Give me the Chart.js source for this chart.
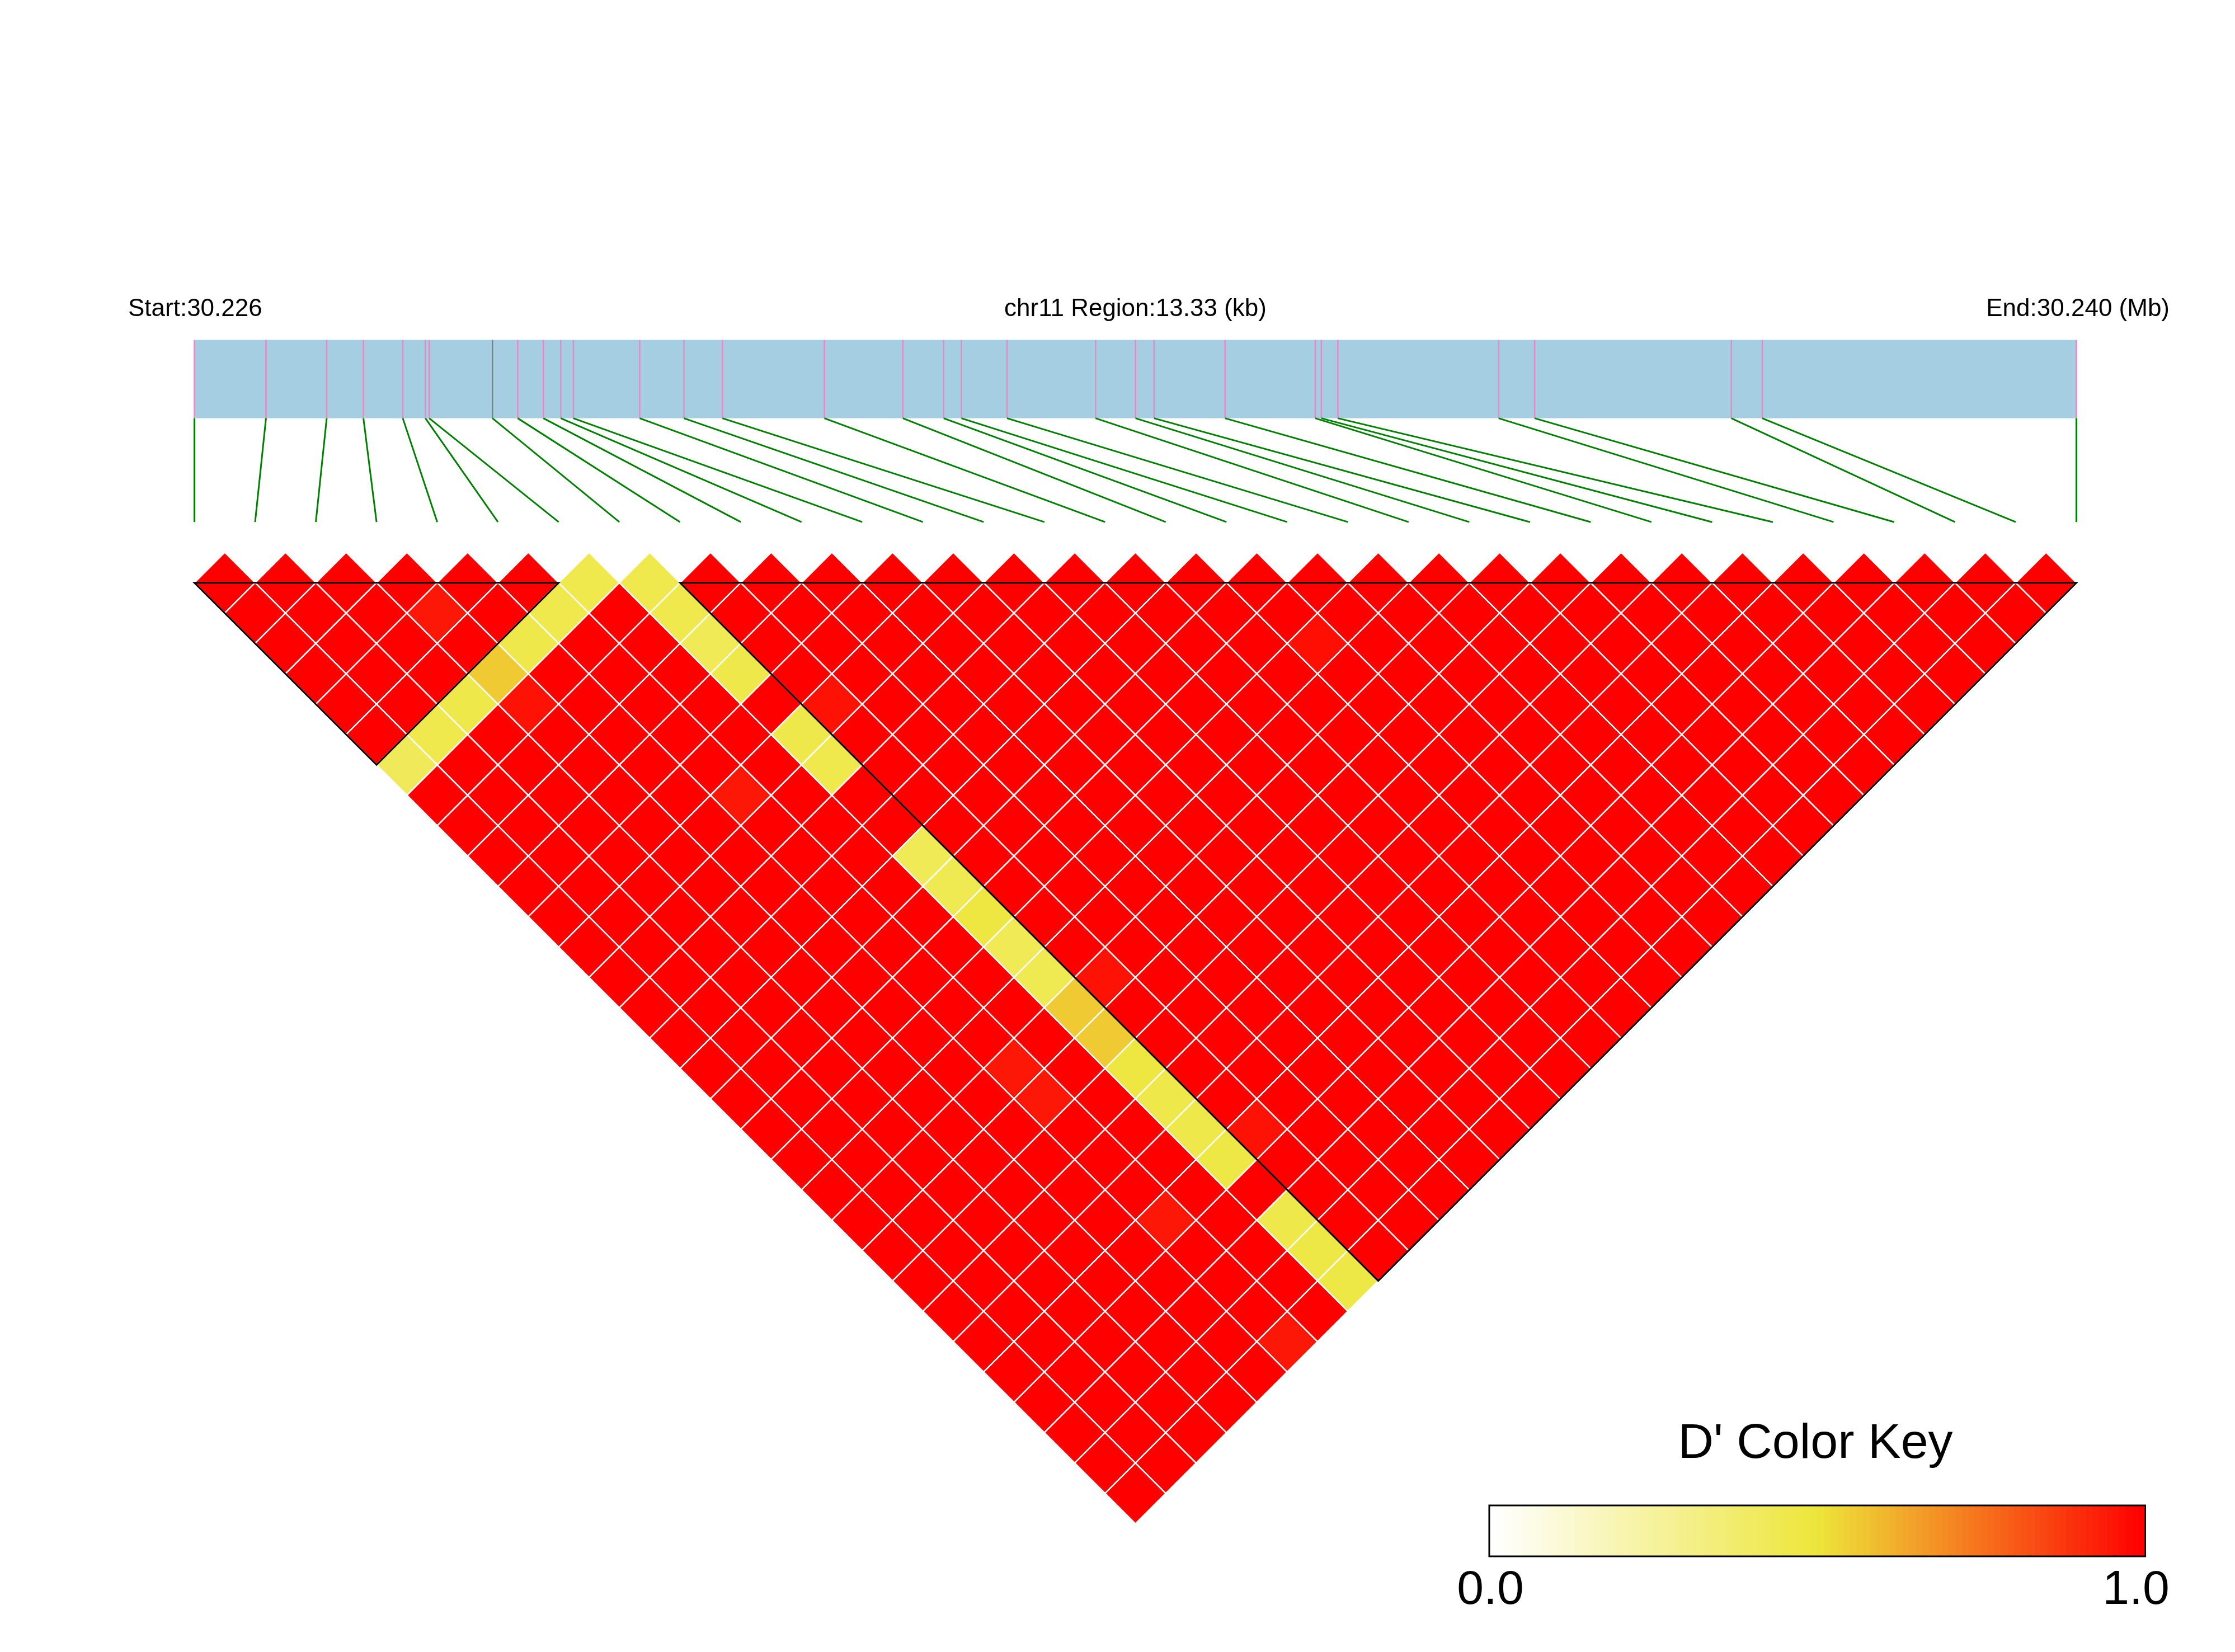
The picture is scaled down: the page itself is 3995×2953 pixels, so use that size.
<!DOCTYPE html>
<html>
<head>
<meta charset="utf-8">
<title>LD heatmap chr11</title>
<script src="https://cdn.jsdelivr.net/npm/chart.js@4.4.1/dist/chart.umd.min.js"></script>
<style>
    html, body { margin: 0; padding: 0; background: #ffffff; }
    canvas { display: block; }
</style>
</head>
<body>
<canvas id="grafico" width="3995" height="2953"></canvas>
<script>
    // SNP physical positions (bp) on chr11
    const snpPos = [30226350, 30226857, 30227287, 30227547, 30227826, 30227986, 30228013, 30228461,
        30228640, 30228822, 30228945, 30229034, 30229504, 30229817, 30230090, 30230812,
        30231368, 30231657, 30231783, 30232106, 30232733, 30233016, 30233147, 30233650,
        30234289, 30234332, 30234449, 30235588, 30235843, 30237236, 30237455, 30239680];
    const chromosome = 'chr11';
    const greySnps = [7];

    // LD blocks (first SNP index, last SNP index)
    const ldBlocks = [[0, 6], [8, 31]];

    // D' of SNP index 7 against every SNP (null = itself)
    const dprimeSnp7 = [0.42, 0.45, 0.46, 0.56, 0.46, 0.45, 0.45, null,
        0.45, 0.45, 0.43, 0.46, 1.0, 0.46, 0.45, 1.0, 1.0, 0.43, 0.44, 0.48, 0.43, 0.44, 0.56, 0.56,
        0.48, 0.46, 0.46, 0.47, 1.0, 0.46, 0.47, 0.47];
    // other pairs below complete LD: [snpA, snpB, D']; every other pair has D' = 1
    const partialPairs = [[3, 5, 0.95], [3, 8, 0.96], [5, 13, 0.95], [5, 22, 0.95], [5, 23, 0.95],
        [5, 27, 0.95], [5, 31, 0.95], [8, 13, 0.96], [8, 22, 0.96], [8, 27, 0.96], [17, 20, 0.97]];

    // D' colour key: white -> yellow -> red
    const keyStops = [[0, [255, 255, 255]], [0.5, [237, 230, 58]], [1, [255, 0, 0]]];
    const keyLabels = ['0.0', '1.0'];

    const fonte = '"Liberation Sans", Arial, sans-serif';

    function dColor(v) {
        let a = keyStops[0], b = keyStops[1];
        if (v > keyStops[1][0]) { a = keyStops[1]; b = keyStops[2]; }
        const t = (v - a[0]) / (b[0] - a[0]);
        const c = a[1].map((ch, k) => Math.round(ch + (b[1][k] - ch) * t));
        return `rgb(${c[0]}, ${c[1]}, ${c[2]})`;
    }

    function pairValue(i, j) {
        if (i === 7) return dprimeSnp7[j];
        if (j === 7) return dprimeSnp7[i];
        const p = partialPairs.find(q => q[0] === i && q[1] === j);
        return p ? p[2] : 1.0;
    }

    const cells = [];
    for (let i = 0; i < snpPos.length; i++) {
        for (let j = i + 1; j < snpPos.length; j++) {
            cells.push({ x: (i + j) / 2, y: (j - i - 1) / 2, v: pairValue(i, j) });
        }
    }

    function halfCell(chart) {
        const s = chart.scales.x;
        return Math.abs(s.getPixelForValue(0.5) - s.getPixelForValue(0));
    }

    // vertical levels of the gene bar, in heatmap row units
    const barTop = -4.0;
    const barBottom = -2.71;
    const linkEnd = -1.0;

    const ldPlot = {
        id: 'ldPlot',
        beforeDatasetsDraw(chart) {
            const ctx = chart.ctx;
            const sx = chart.scales.x, sp = chart.scales.pos, sy = chart.scales.y;
            const yTop = sy.getPixelForValue(barTop);
            const yBot = sy.getPixelForValue(barBottom);
            const yEnd = sy.getPixelForValue(linkEnd);
            const x0 = sp.getPixelForValue(snpPos[0]);
            const x1 = sp.getPixelForValue(snpPos[snpPos.length - 1]);

            ctx.save();
            ctx.fillStyle = '#A6CEE3';
            ctx.fillRect(x0, yTop, x1 - x0, yBot - yTop);

            ctx.lineWidth = 2.5;
            snpPos.forEach((p, k) => {
                const px = sp.getPixelForValue(p);
                ctx.strokeStyle = greySnps.includes(k) ? '#808080' : '#E78AC3';
                ctx.beginPath();
                ctx.moveTo(px, yTop);
                ctx.lineTo(px, yBot);
                ctx.stroke();
            });

            ctx.strokeStyle = '#008000';
            ctx.lineWidth = 3;
            snpPos.forEach((p, k) => {
                ctx.beginPath();
                ctx.moveTo(sp.getPixelForValue(p), yBot);
                ctx.lineTo(sx.getPixelForValue(k), yEnd);
                ctx.stroke();
            });

            const start = snpPos[0], end = snpPos[snpPos.length - 1];
            ctx.fillStyle = '#000000';
            ctx.font = '44px ' + fonte;
            ctx.textBaseline = 'alphabetic';
            ctx.textAlign = 'left';
            ctx.fillText('Start:' + (start / 1e6).toFixed(3), 229, 565);
            ctx.textAlign = 'center';
            ctx.fillText(chromosome + ' Region:' + ((end - start) / 1000).toFixed(2) + ' (kb)', (x0 + x1) / 2, 565);
            ctx.textAlign = 'right';
            ctx.fillText('End:' + (end / 1e6).toFixed(3) + ' (Mb)', 3878, 565);
            ctx.restore();
        },
        afterDatasetsDraw(chart) {
            const ctx = chart.ctx;
            const sx = chart.scales.x, sy = chart.scales.y;

            ctx.save();
            ctx.strokeStyle = '#000000';
            ctx.lineWidth = 3;
            ctx.lineJoin = 'miter';
            ldBlocks.forEach(b => {
                ctx.beginPath();
                ctx.moveTo(sx.getPixelForValue(b[0]), sy.getPixelForValue(0));
                ctx.lineTo(sx.getPixelForValue(b[1]), sy.getPixelForValue(0));
                ctx.lineTo(sx.getPixelForValue((b[0] + b[1]) / 2), sy.getPixelForValue((b[1] - b[0]) / 2));
                ctx.closePath();
                ctx.stroke();
            });

            // colour key
            const kx0 = 2662, kx1 = 3834.5, ky0 = 2691, ky1 = 2782;
            const passos = 100;
            const w = (kx1 - kx0) / passos;
            for (let k = 0; k < passos; k++) {
                ctx.fillStyle = dColor(k / (passos - 1));
                ctx.fillRect(kx0 + k * w, ky0, w + 0.6, ky1 - ky0);
            }
            ctx.strokeStyle = '#000000';
            ctx.lineWidth = 3;
            ctx.strokeRect(kx0, ky0, kx1 - kx0, ky1 - ky0);

            ctx.fillStyle = '#000000';
            ctx.textAlign = 'center';
            ctx.textBaseline = 'alphabetic';
            ctx.font = '88px ' + fonte;
            ctx.fillText("D' Color Key", 3245, 2606);
            ctx.font = '86px ' + fonte;
            ctx.fillText(keyLabels[0], 2664, 2867);
            ctx.fillText(keyLabels[1], 3818, 2867);
            ctx.restore();
        }
    };

    new Chart(document.getElementById('grafico').getContext('2d'), {
        type: 'scatter',
        data: {
            datasets: [{
                label: "D'",
                data: cells,
                pointStyle: 'rectRot',
                pointRadius: ctx => halfCell(ctx.chart),
                pointBackgroundColor: ctx => (ctx.raw ? dColor(ctx.raw.v) : '#FF0000'),
                pointBorderColor: '#FFFFFF',
                pointBorderWidth: 2.5,
                clip: false
            }]
        },
        options: {
            responsive: false,
            animation: false,
            devicePixelRatio: 1,
            events: [],
            layout: {
                padding: { left: 347.5, right: 283.5, top: 1041.7, bottom: 229.3 }
            },
            plugins: {
                legend: { display: false },
                tooltip: { enabled: false }
            },
            scales: {
                x: { type: 'linear', min: 0, max: snpPos.length - 1, display: false },
                pos: { type: 'linear', axis: 'x', position: 'bottom', min: snpPos[0], max: snpPos[snpPos.length - 1], display: false },
                y: { type: 'linear', min: 0, max: 15.5, reverse: true, display: false }
            }
        },
        plugins: [ldPlot]
    });
</script>
</body>
</html>
